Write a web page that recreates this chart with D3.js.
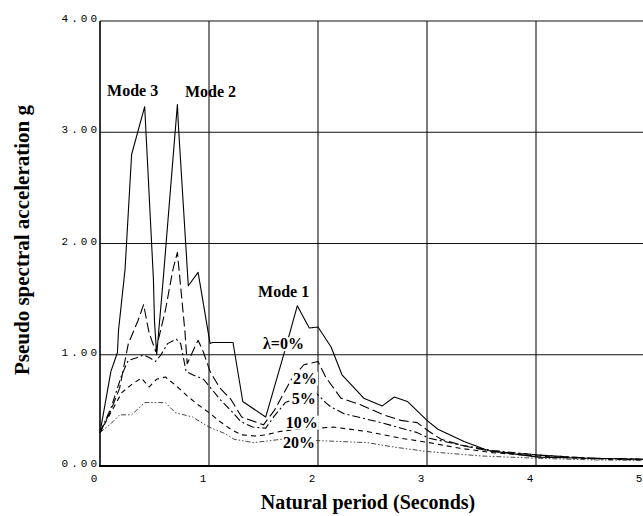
<!DOCTYPE html>
<html>
<head>
<meta charset="utf-8">
<script src="https://cdn.jsdelivr.net/npm/d3@7"></script>
<style>
  body { margin: 0; background: #fff; }
  svg { display: block; }
</style>
</head>
<body>
<svg id="chart" width="643" height="516"></svg>
<script>
// period (s), pseudo spectral acceleration (g)
const damp0 = [[0,0.30],[0.10,0.85],[0.16,1.02],[0.17,1.22],[0.23,1.77],[0.29,2.80],[0.41,3.23],[0.49,1.68],[0.50,1.30],[0.52,1.00],[0.58,1.68],[0.67,2.77],[0.71,3.25],[0.72,3.05],[0.81,1.62],[0.90,1.74],[1.01,1.10],[1.03,1.11],[1.22,1.11],[1.31,0.58],[1.52,0.44],[1.70,1.05],[1.81,1.44],[1.92,1.24],[2.00,1.25],[2.12,1.07],[2.22,0.82],[2.42,0.61],[2.59,0.54],[2.70,0.62],[2.82,0.58],[3.00,0.41],[3.10,0.33],[3.34,0.22],[3.56,0.14],[4.02,0.08],[4.50,0.07],[5.00,0.06]];
const damp2 = [[0,0.30],[0.10,0.50],[0.18,0.70],[0.26,1.10],[0.35,1.31],[0.40,1.45],[0.45,1.20],[0.51,1.03],[0.60,1.40],[0.67,1.77],[0.71,1.92],[0.78,1.20],[0.80,0.92],[0.87,1.07],[0.90,1.13],[0.95,1.02],[1.01,0.85],[1.10,0.70],[1.20,0.60],[1.30,0.44],[1.50,0.37],[1.60,0.50],[1.75,0.77],[1.87,0.91],[2.00,0.94],[2.07,0.80],[2.21,0.61],[2.39,0.55],[2.60,0.46],[2.76,0.41],[2.91,0.39],[3.02,0.31],[3.13,0.24],[3.34,0.18],[3.60,0.13],[4.00,0.10],[4.50,0.07],[5.00,0.06]];
const damp5 = [[0,0.30],[0.10,0.52],[0.20,0.82],[0.26,0.95],[0.33,0.97],[0.40,1.00],[0.46,0.97],[0.51,0.94],[0.56,1.00],[0.62,1.10],[0.70,1.14],[0.74,1.10],[0.79,0.85],[0.85,0.82],[0.95,0.78],[1.00,0.72],[1.10,0.60],[1.20,0.50],[1.29,0.40],[1.40,0.35],[1.52,0.34],[1.60,0.45],[1.70,0.57],[1.85,0.63],[1.98,0.66],[2.07,0.57],[2.12,0.53],[2.24,0.47],[2.58,0.39],[2.91,0.30],[3.02,0.25],[3.30,0.19],[3.60,0.14],[4.00,0.10],[4.50,0.07],[5.00,0.06]];
const damp10 = [[0,0.30],[0.10,0.48],[0.20,0.66],[0.30,0.74],[0.38,0.79],[0.45,0.71],[0.52,0.78],[0.60,0.80],[0.70,0.72],[0.80,0.63],[0.90,0.55],[1.00,0.48],[1.10,0.40],[1.20,0.33],[1.30,0.28],[1.42,0.27],[1.52,0.28],[1.65,0.31],[1.80,0.33],[2.00,0.34],[2.14,0.35],[2.45,0.31],[2.76,0.25],[3.02,0.21],[3.30,0.16],[3.60,0.12],[4.00,0.09],[4.50,0.065],[5.00,0.055]];
const damp20 = [[0,0.30],[0.10,0.38],[0.18,0.46],[0.29,0.46],[0.41,0.57],[0.60,0.57],[0.69,0.48],[0.85,0.44],[1.00,0.35],[1.15,0.29],[1.23,0.24],[1.41,0.21],[1.66,0.24],[1.96,0.23],[2.45,0.21],[2.70,0.17],[3.00,0.13],[3.50,0.09],[4.00,0.07],[4.50,0.055],[5.00,0.05]];

const xTicks = [0, 1, 2, 3, 4, 5];
const yTicks = [0, 1, 2, 3, 4];
const yTickLabels = ["0.00", "1.00", "2.00", "3.00", "4.00"];

// annotations: text, period, acceleration (baseline-left corner)
const annotations = [
    { text: "Mode 3", t: 0.065, a: 3.33, bg: false },
    { text: "Mode 2", t: 0.78, a: 3.32, bg: false },
    { text: "Mode 1", t: 1.45, a: 1.52, bg: false },
    { text: "λ=0%", t: 1.495, a: 1.05, bg: true },
    { text: "2%", t: 1.77, a: 0.74, bg: true },
    { text: "5%", t: 1.76, a: 0.56, bg: true },
    { text: "10%", t: 1.705, a: 0.345, bg: true },
    { text: "20%", t: 1.68, a: 0.165, bg: true }
];

const svg = d3.select("#chart");

const x = d3.scaleLinear().domain([0, 5]).range([100, 645]);
const y = d3.scaleLinear().domain([0, 4]).range([466, 21]);

// grid
svg.append("g")
    .selectAll("line")
    .data(yTicks.filter(d => d > 0))
    .enter()
    .append("line")
    .attr("x1", x(0)).attr("x2", x(5))
    .attr("y1", d => y(d)).attr("y2", d => y(d))
    .attr("stroke", "#111")
    .attr("stroke-width", 1.2);

svg.append("g")
    .selectAll("line")
    .data(xTicks.filter(d => d > 0 && d < 5))
    .enter()
    .append("line")
    .attr("x1", d => x(d)).attr("x2", d => x(d))
    .attr("y1", y(0)).attr("y2", y(4))
    .attr("stroke", "#111")
    .attr("stroke-width", 1.1);

// axes lines
svg.append("line")
    .attr("x1", x(0)).attr("x2", x(0))
    .attr("y1", y(0)).attr("y2", y(4))
    .attr("stroke", "#000").attr("stroke-width", 1.6);
svg.append("line")
    .attr("x1", x(0) - 1).attr("x2", x(5))
    .attr("y1", y(0)).attr("y2", y(0))
    .attr("stroke", "#000").attr("stroke-width", 2.2);

// tick labels
svg.append("g")
    .selectAll("text")
    .data(yTicks)
    .enter()
    .append("text")
    .attr("x", 100)
    .attr("y", d => y(d) + 1)
    .attr("text-anchor", "end")
    .style("font-family", "'Liberation Mono', 'DejaVu Sans Mono', monospace")
    .style("font-size", "11px")
    .style("letter-spacing", "3px")
    .text((d, i) => yTickLabels[i]);

svg.append("g")
    .selectAll("text")
    .data(xTicks)
    .enter()
    .append("text")
    .attr("x", d => x(d) - 6)
    .attr("y", 482)
    .attr("text-anchor", "middle")
    .style("font-family", "'Liberation Mono', 'DejaVu Sans Mono', monospace")
    .style("font-size", "11px")
    .text(d => d);

// curves
const line = d3.line()
    .x(d => x(d[0]))
    .y(d => y(d[1]));

const series = [
    { data: damp20, dash: "5,2,1.5,2,1.5,2", width: 0.9, color: "#333" },
    { data: damp10, dash: "5,4", width: 1.1, color: "#000" },
    { data: damp5, dash: "8,3,2,3", width: 1.1, color: "#000" },
    { data: damp2, dash: "10,4", width: 1.1, color: "#000" },
    { data: damp0, dash: null, width: 1.1, color: "#000" }
];

svg.append("g")
    .selectAll("path")
    .data(series)
    .enter()
    .append("path")
    .attr("d", d => line(d.data))
    .attr("fill", "none")
    .attr("stroke", d => d.color)
    .attr("stroke-width", d => d.width)
    .attr("stroke-dasharray", d => d.dash)
    .attr("stroke-linejoin", "round");

// annotations
const ann = svg.append("g");
annotations.forEach(a => {
    const g = ann.append("g");
    const t = g.append("text")
        .attr("x", x(a.t))
        .attr("y", y(a.a))
        .style("font-family", "'Liberation Serif', 'Times New Roman', serif")
        .style("font-weight", "bold")
        .style("font-size", "16px")
        .text(a.text);
    if (a.bg) {
        const b = t.node().getBBox();
        g.insert("rect", "text")
            .attr("x", b.x - 1).attr("y", b.y + 2)
            .attr("width", b.width + 2).attr("height", b.height - 3)
            .attr("fill", "#fff");
    }
});

// axis titles
svg.append("text")
    .attr("x", 368)
    .attr("y", 509)
    .attr("text-anchor", "middle")
    .style("font-family", "'Liberation Serif', 'Times New Roman', serif")
    .style("font-weight", "bold")
    .style("font-size", "20px")
    .text("Natural period (Seconds)");

svg.append("text")
    .attr("transform", "translate(29,240) rotate(-90)")
    .attr("text-anchor", "middle")
    .style("font-family", "'Liberation Serif', 'Times New Roman', serif")
    .style("font-weight", "bold")
    .style("font-size", "21px")
    .text("Pseudo spectral acceleration g");
</script>
</body>
</html>
